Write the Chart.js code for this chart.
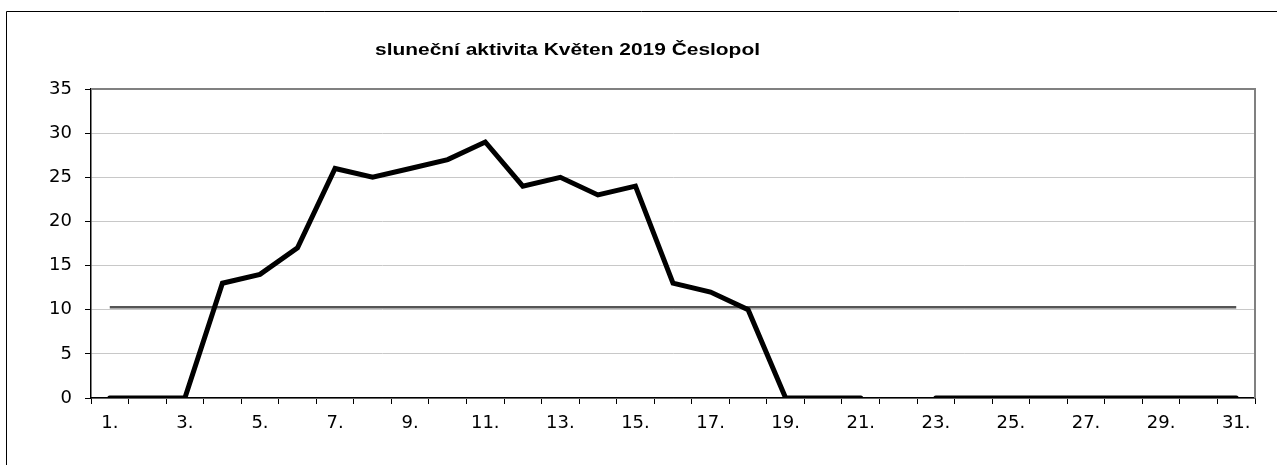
<!DOCTYPE html>
<html>
<head>
<meta charset="utf-8">
<script src="https://cdn.jsdelivr.net/npm/chart.js@4"></script>
<style>
  html, body { margin: 0; padding: 0; background: #fff; }
  #wrap { width: 1277px; height: 465px; position: relative; }
</style>
</head>
<body>
<div id="wrap"><canvas id="myChart" width="1277" height="465"></canvas></div>
<script>
const days = []
for (let i = 1; i <= 31; i++) days.push(i + '.')
const activity = [0, 0, 0, 13, 14, 17, 26, 25, 26, 27, 29, 24, 25, 23, 24, 13, 12, 10, 0, 0, 0, null, 0, 0, 0, 0, 0, 0, 0, 0, 0]
const average = Array(31).fill(10.27)
const yTicks = [0, 5, 10, 15, 20, 25, 30, 35]

const FONT = '"Liberation Sans", Arial, sans-serif'
// the original's labels look horizontally stretched, DejaVu's wider digits fit better
const TICK_FONT = '"DejaVu Sans", sans-serif'

// frame + title, drawn by hand (title is a bit stretched in the original)
const extras = {
    id: 'extras',
    beforeDraw(chart) {
        const c = chart.ctx
        c.save()
        c.strokeStyle = '#000'
        c.lineWidth = 1
        c.beginPath()
        c.moveTo(6.5, 465)
        c.lineTo(6.5, 11.5)
        c.lineTo(1277, 11.5)
        c.stroke()
        c.fillStyle = '#000'
        c.font = 'bold 16px ' + FONT
        c.textAlign = 'left'
        c.textBaseline = 'alphabetic'
        const txt = 'sluneční aktivita Květen 2019 Česlopol'
        const w = c.measureText(txt).width
        c.translate(375, 55)
        c.scale(385 / w, 1)
        c.fillText(txt, 0, 0)
        c.restore()
    },
    beforeDatasetsDraw(chart) {
        const a = chart.chartArea
        const c = chart.ctx
        c.save()
        c.strokeStyle = '#808080'
        c.lineWidth = 2
        c.beginPath()
        c.moveTo(a.left, a.top)
        c.lineTo(a.right, a.top)
        c.lineTo(a.right, a.bottom)
        c.stroke()
        c.restore()
    }
}

const ctx = document.getElementById('myChart').getContext('2d')
const myChart = new Chart(ctx, {
    type: 'line',
    data: {
        labels: days,
        datasets: [{
            label: 'aktivita',
            data: activity,
            borderColor: '#000',
            borderWidth: 5,
            borderCapStyle: 'round',
            borderJoinStyle: 'miter',
            pointRadius: 0,
            tension: 0,
            spanGaps: false,
            order: 1
        }, {
            label: 'průměr',
            data: average,
            borderColor: '#555',
            borderWidth: 2.5,
            pointRadius: 0,
            tension: 0,
            order: 2
        }]
    },
    options: {
        responsive: false,
        animation: false,
        layout: { padding: { left: 0, top: 89, right: 22, bottom: 0 } },
        plugins: {
            legend: { display: false },
            title: { display: false },
            tooltip: { enabled: false }
        },
        scales: {
            x: {
                offset: true,
                grid: { offset: true, drawOnChartArea: false, tickLength: 6, tickColor: '#000' },
                border: { color: '#000', width: 1.5 },
                ticks: {
                    autoSkip: false,
                    maxRotation: 0,
                    padding: 9,
                    color: '#000',
                    font: { family: TICK_FONT, size: 18 },
                    callback: function(value, index) {
                        return index % 2 === 0 ? days[index] : ''
                    }
                },
                afterFit(scale) { scale.height = 465 - 398 }
            },
            y: {
                min: 0,
                max: 35,
                afterBuildTicks(scale) { scale.ticks = yTicks.map(v => ({ value: v })) },
                grid: { color: '#c8c8c8', tickLength: 6, tickColor: '#000' },
                border: { color: '#000', width: 1.5 },
                ticks: {
                    padding: 13,
                    color: '#000',
                    font: { family: TICK_FONT, size: 18 }
                },
                afterFit(scale) { scale.width = 91 }
            }
        }
    },
    plugins: [extras]
})
</script>
</body>
</html>
